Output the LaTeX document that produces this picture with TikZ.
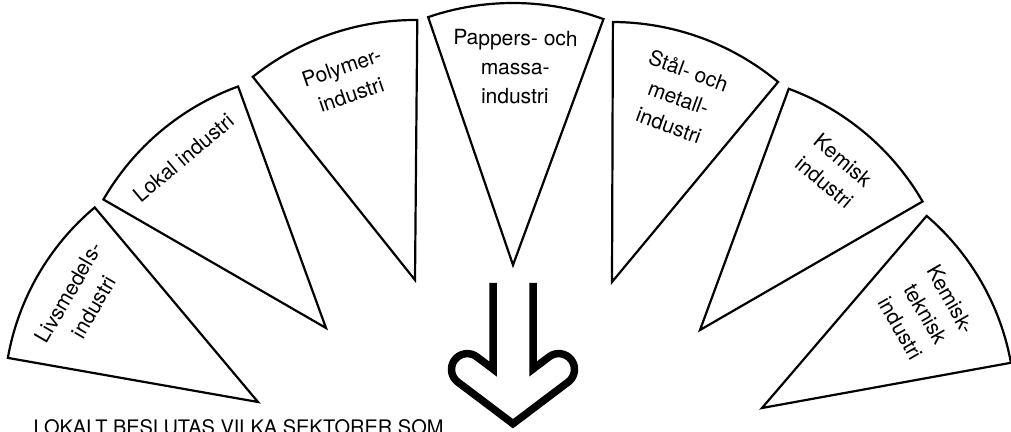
\documentclass[tikz,border=0pt]{standalone}
\usepackage{fontspec}
\setmainfont{TeX Gyre Heros}
\usetikzlibrary{calc}
\tikzset{
  wedgeline/.style={draw=black, line width=2.2pt, line join=miter},
  lbl/.style={font=\fontsize{21}{29}\selectfont, align=center, anchor=north, inner sep=3pt},
  arrowline/.style={draw=black, line width=7.5pt, line join=miter, line cap=butt}
}
\newcommand\sectorwedge[6]{%
  \draw[wedgeline] (#1) -- ++(#2:#4) arc[start angle=#2, end angle=#3, radius=#4] -- cycle;
  \node[lbl, rotate={(#2+#3)/2-90}] (#5) at ($(#1)+({(#2+#3)/2}:{#4-24})$) {#6};
}
\begin{document}
\begin{tikzpicture}[x=1pt,y=1pt]
\useasboundingbox (0,0) rectangle (1011,431);
\clip (0,0) rectangle (1011,431);
\coordinate (a1) at (258,29);
\coordinate (a2) at (326,103);
\coordinate (a3) at (415,151);
\coordinate (a4) at (513,166);
\coordinate (a5) at (612,149);
\coordinate (a6) at (700,101);
\coordinate (a7) at (762,23);
\sectorwedge{a1}{130}{170}{254}{livs}{Livsmedels-\\industri}
\sectorwedge{a2}{110}{150}{257}{lokal}{Lokal industri}
\sectorwedge{a3}{89.5}{128.6}{260}{poly}{Polymer-\\industri}
\sectorwedge{a4}{69.8}{108.9}{262}{papp}{Pappers- och\\massa-\\industri}
\sectorwedge{a5}{50.3}{89.8}{260}{stal}{Stål- och\\metall-\\industri}
\sectorwedge{a6}{30}{69.8}{257}{kem}{Kemisk\\industri}
\sectorwedge{a7}{10.3}{49.4}{253}{kemtek}{Kemisk-\\teknisk\\industri}
% arrow
\coordinate (s1) at (493,148);
\coordinate (s2) at (533,148);
\draw[arrowline] (s1) -- (493,62) -- (476.8,74.2)
  arc[start angle=53, end angle=233, radius=15.8]
  -- (513,7.3) -- (568.2,49.0)
  arc[start angle=-53, end angle=127, radius=15.8]
  -- (533,62) -- (s2);
\node[anchor=base west, inner sep=0pt, font=\fontsize{20}{24}\selectfont] (caption) at (33.5,-3.5) {LOKALT BESLUTAS VILKA SEKTORER SOM};
\end{tikzpicture}
\end{document}
